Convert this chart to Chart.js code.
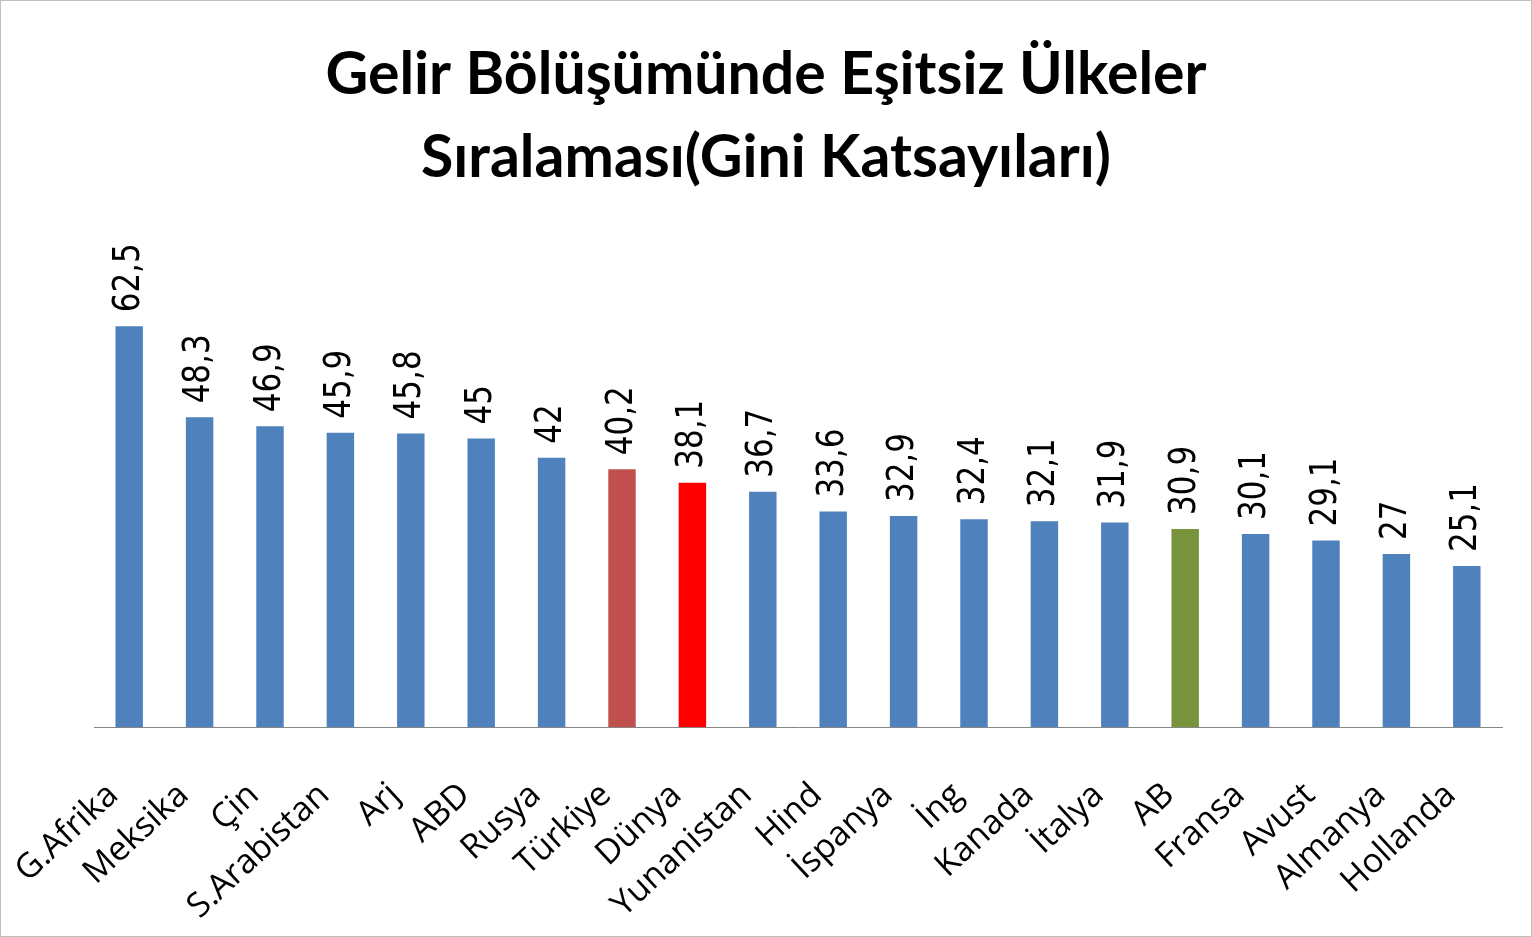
<!DOCTYPE html>
<html>
<head>
<meta charset="utf-8">
<script src="https://cdn.jsdelivr.net/npm/chart.js@4"></script>
<style>
  html, body { margin: 0; padding: 0; background: #fff; }
  #wrap { position: absolute; left: 0; top: 0; width: 1530px; height: 935px; border: 1px solid #bfbfbf; }
</style>
</head>
<body>
<div id="wrap"><canvas id="giniChart" width="1530" height="935"></canvas></div>
<script>
const countries = ['G.Afrika', 'Meksika', 'Çin', 'S.Arabistan', 'Arj', 'ABD', 'Rusya', 'Türkiye', 'Dünya', 'Yunanistan',
  'Hind', 'İspanya', 'İng', 'Kanada', 'İtalya', 'AB', 'Fransa', 'Avust', 'Almanya', 'Hollanda'];
const giniValues = [62.5, 48.3, 46.9, 45.9, 45.8, 45, 42, 40.2, 38.1, 36.7,
  33.6, 32.9, 32.4, 32.1, 31.9, 30.9, 30.1, 29.1, 27, 25.1];
const barColors = ['#4F81BD', '#4F81BD', '#4F81BD', '#4F81BD', '#4F81BD', '#4F81BD', '#4F81BD', '#C0504D', '#FF0000', '#4F81BD',
  '#4F81BD', '#4F81BD', '#4F81BD', '#4F81BD', '#4F81BD', '#77933C', '#4F81BD', '#4F81BD', '#4F81BD', '#4F81BD'];

// value labels written vertically above each bar
const valueLabels = {
  id: 'valueLabels',
  afterDatasetsDraw(chart) {
    const ctx = chart.ctx;
    const meta = chart.getDatasetMeta(0);
    ctx.save();
    ctx.fillStyle = '#000';
    ctx.font = '31px "DejaVu Sans"';
    ctx.textAlign = 'left';
    ctx.textBaseline = 'middle';
    meta.data.forEach((bar, i) => {
      ctx.save();
      ctx.translate(bar.x, bar.y - 14);
      ctx.rotate(-Math.PI / 2);
      ctx.scale(1, 1.2);
      ctx.fillText(String(giniValues[i]).replace('.', ','), 0, 0);
      ctx.restore();
    });
    ctx.restore();
  }
};

new Chart(document.getElementById('giniChart'), {
  type: 'bar',
  data: {
    labels: countries,
    datasets: [{
      data: giniValues,
      backgroundColor: barColors,
      barPercentage: 0.39,
      categoryPercentage: 1
    }]
  },
  options: {
    responsive: false,
    animation: false,
    layout: { padding: { top: 0, bottom: 11, left: 0, right: 0 } },
    plugins: {
      legend: { display: false },
      tooltip: { enabled: false },
      title: {
        display: true,
        text: ['Gelir Bölüşümünde Eşitsiz Ülkeler', 'Sıralaması(Gini Katsayıları)'],
        color: '#000',
        font: { family: 'Lato', size: 59, weight: 'bold', lineHeight: 1.4 },
        padding: { top: 33, bottom: 47 }
      }
    },
    scales: {
      x: {
        grid: { display: false },
        border: { display: true, color: '#868686' },
        ticks: {
          color: '#000',
          font: { family: 'Open Sans', size: 34 },
          autoSkip: false,
          minRotation: 43,
          maxRotation: 43,
          padding: 40,
          labelOffset: -16
        },
        afterFit(scale) {
          scale.height = 198;
          scale.paddingLeft = 0;
          scale.paddingRight = 0;
        }
      },
      y: {
        min: 0,
        max: 75,
        grid: { display: false },
        border: { display: false },
        ticks: { display: false },
        afterFit(scale) { scale.width = 93; }
      },
      y2: {
        position: 'right',
        grid: { display: false },
        border: { display: false },
        ticks: { display: false },
        afterFit(scale) { scale.width = 29; }
      }
    }
  },
  plugins: [valueLabels]
});
</script>
</body>
</html>
